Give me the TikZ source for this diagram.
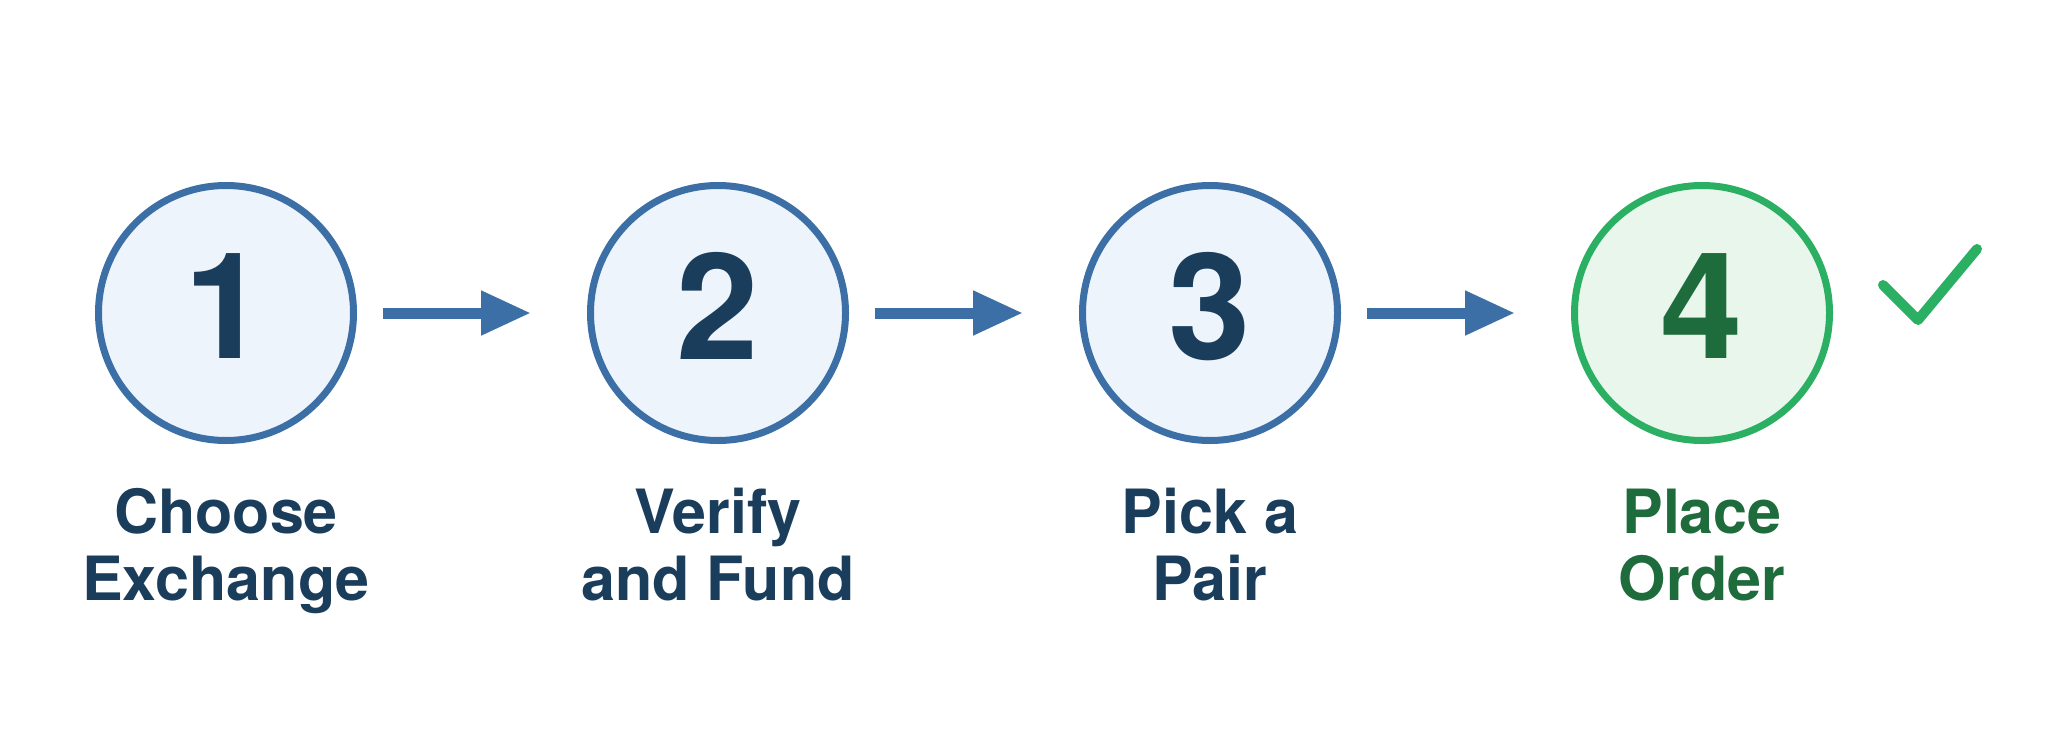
\documentclass[tikz,border=0pt]{standalone}
\usepackage{fontspec}
\setmainfont{TeX Gyre Heros}
\usetikzlibrary{arrows.meta}
\definecolor{bstroke}{HTML}{3B6FA6}
\definecolor{bfill}{HTML}{EEF4FB}
\definecolor{btext}{HTML}{1B3D5C}
\definecolor{gstroke}{HTML}{2BB063}
\definecolor{gfill}{HTML}{E8F6EC}
\definecolor{gtext}{HTML}{1E6B3C}
\tikzset{
  stepcirc/.style={circle, draw=bstroke, fill=bfill, line width=7pt, minimum size=255pt, inner sep=0pt,
    text=btext, font=\fontsize{148}{148}\selectfont\bfseries, text depth=14pt},
  donecirc/.style={stepcirc, draw=gstroke, fill=gfill, text=gtext},
  steplabel/.style={anchor=base, align=center, text=btext, font=\fontsize{61}{67}\selectfont\bfseries, inner sep=0pt},
  donelabel/.style={steplabel, text=gtext},
  flow/.style={draw=bstroke, line width=11pt, -{Triangle[length=50pt,width=42pt]}, shorten <=26pt, shorten >=56pt}
}
\begin{document}
\begin{tikzpicture}[x=1pt,y=1pt]
\useasboundingbox (0,0) rectangle (2048,-747);
\node[stepcirc] (c1) at (226,-313) {1};
\node[stepcirc] (c2) at (718,-313) {2};
\node[stepcirc] (c3) at (1210,-313) {3};
\node[donecirc] (c4) at (1702,-313) {4};
\draw[flow] (c1) -- (c2);
\draw[flow] (c2) -- (c3);
\draw[flow] (c3) -- (c4);
\node[steplabel] (l1) at (226,-600) {Choose\\Exchange};
\node[steplabel] (l2) at (718,-600) {Verify\\and Fund};
\node[steplabel] (l3) at (1210,-600) {Pick a\\Pair};
\node[donelabel] (l4) at (1702,-600) {Place\\Order};
\coordinate (k1) at (1883,-285);
\coordinate (k2) at (1918,-320);
\coordinate (k3) at (1977,-249);
\draw[gstroke, line width=10pt, line cap=round, line join=round] (k1) -- (k2) -- (k3);
\end{tikzpicture}
\end{document}
